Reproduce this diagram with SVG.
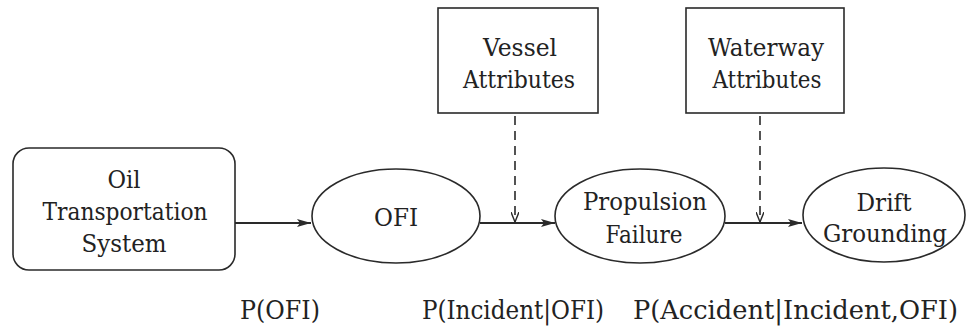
<svg xmlns="http://www.w3.org/2000/svg" width="967" height="329" viewBox="0 0 967 329">
<style>
.shape{fill:#fff;stroke:#2a2a2a;stroke-width:1.6}
text{font-family:'DejaVu Serif',serif;font-size:25px;fill:#222;text-anchor:middle}
.lab{font-size:26.5px;text-anchor:start}
.solid{stroke:#2a2a2a;stroke-width:2.2;fill:none}
.dash{stroke:#2a2a2a;stroke-width:1.6;fill:none;stroke-dasharray:9 6}
</style>
<defs>
<marker id="ah" viewBox="0 0 14 10" refX="14" refY="5" markerWidth="14" markerHeight="10" markerUnits="userSpaceOnUse" orient="auto">
<path d="M0,1 L14,5 L0,9 L3,5 Z" fill="#2a2a2a"/>
</marker>
<marker id="ad" viewBox="0 0 10 8" refX="10" refY="4" markerWidth="10" markerHeight="8" markerUnits="userSpaceOnUse" orient="auto">
<path d="M0,0 L10,4 L0,8" fill="none" stroke="#2a2a2a" stroke-width="1.4"/>
</marker>
</defs>
<rect width="967" height="329" fill="#fff"/>
<g id="connectors">
<line class="solid" x1="235" y1="223" x2="311" y2="223" marker-end="url(#ah)"/>
<line class="solid" x1="480" y1="223" x2="555" y2="223" marker-end="url(#ah)"/>
<line class="solid" x1="725" y1="223" x2="802" y2="223" marker-end="url(#ah)"/>
<line class="dash" x1="515" y1="116" x2="515" y2="222" marker-end="url(#ad)"/>
<line class="dash" x1="760" y1="116" x2="760" y2="222" marker-end="url(#ad)"/>
</g>
<g id="oil">
<rect class="shape" x="13" y="148" width="222" height="122" rx="16"/>
<text x="124" y="188" textLength="33" lengthAdjust="spacingAndGlyphs">Oil</text>
<text x="125" y="220" textLength="165" lengthAdjust="spacingAndGlyphs">Transportation</text>
<text x="124" y="252" textLength="85" lengthAdjust="spacingAndGlyphs">System</text>
</g>
<g id="ofi">
<ellipse class="shape" cx="396" cy="216" rx="84" ry="47"/>
<text x="396" y="226" textLength="44" lengthAdjust="spacingAndGlyphs">OFI</text>
</g>
<g id="propulsion">
<ellipse class="shape" cx="640" cy="216" rx="85" ry="47"/>
<text x="645" y="210" textLength="124" lengthAdjust="spacingAndGlyphs">Propulsion</text>
<text x="644" y="243" textLength="77" lengthAdjust="spacingAndGlyphs">Failure</text>
</g>
<g id="drift">
<ellipse class="shape" cx="884" cy="215" rx="81" ry="47"/>
<text x="884" y="211" textLength="55" lengthAdjust="spacingAndGlyphs">Drift</text>
<text x="885" y="242" textLength="124" lengthAdjust="spacingAndGlyphs">Grounding</text>
</g>
<g id="vessel">
<rect class="shape" x="438" y="8" width="160" height="105"/>
<text x="520" y="56" textLength="74" lengthAdjust="spacingAndGlyphs">Vessel</text>
<text x="519" y="88" textLength="112" lengthAdjust="spacingAndGlyphs">Attributes</text>
</g>
<g id="waterway">
<rect class="shape" x="686" y="8" width="158" height="105"/>
<text x="766" y="56" textLength="116" lengthAdjust="spacingAndGlyphs">Waterway</text>
<text x="767" y="88" textLength="109" lengthAdjust="spacingAndGlyphs">Attributes</text>
</g>
<g id="labels">
<text class="lab" x="240" y="319" textLength="80" lengthAdjust="spacingAndGlyphs">P(OFI)</text>
<text class="lab" x="422" y="319" textLength="182" lengthAdjust="spacingAndGlyphs">P(Incident|OFI)</text>
<text class="lab" x="633" y="319" textLength="325" lengthAdjust="spacingAndGlyphs">P(Accident|Incident,OFI)</text>
</g>
</svg>
